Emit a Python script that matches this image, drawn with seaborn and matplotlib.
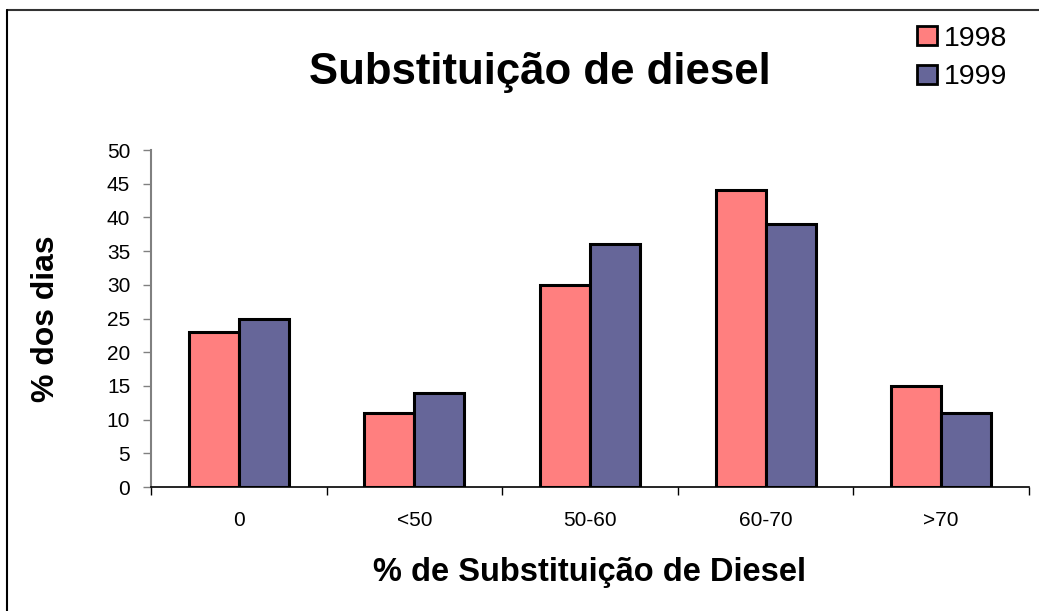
import matplotlib
matplotlib.use("Agg")
import matplotlib.pyplot as plt
import matplotlib.lines as mlines
from matplotlib.patches import Patch
from matplotlib.ticker import FixedLocator
import seaborn as sns
import pandas as pd

categorias = ["0", "<50", "50-60", "60-70", ">70"]
anos = ["1998", "1999"]
valores_1998 = [23, 11, 30, 44, 15]
valores_1999 = [25, 14, 36, 39, 11]
cores = ["#FF7F7F", "#666699"]

df = pd.DataFrame({
    "categoria": categorias * 2,
    "ano": [anos[0]] * len(categorias) + [anos[1]] * len(categorias),
    "valor": valores_1998 + valores_1999,
})

sns.set_style("white")
plt.rcParams["font.family"] = ["Liberation Sans", "DejaVu Sans"]
for chave in ["text.color", "axes.labelcolor", "xtick.color", "ytick.color"]:
    plt.rcParams[chave] = "black"

fig = plt.figure(figsize=(10.39, 6.11), dpi=100)
ax = fig.add_axes([0.1453, 0.2029, 0.8451, 0.5516])

sns.barplot(data=df, x="categoria", y="valor", hue="ano", order=categorias,
            hue_order=anos, palette=cores, width=0.57, dodge=True,
            edgecolor="black", linewidth=2.2, saturation=1, ax=ax, legend=False)

ax.set_xlim(-0.5, len(categorias) - 0.5)
ax.set_ylim(0, 50)
ax.set_yticks(range(0, 51, 5))
ax.tick_params(axis="y", labelsize=15, length=6, width=1, color="#808080",
               labelcolor="black", left=True, direction="out", pad=9)
ax.tick_params(axis="x", which="major", labelsize=15, length=0, pad=17)
ax.xaxis.set_minor_locator(FixedLocator([i - 0.5 for i in range(len(categorias) + 1)]))
ax.tick_params(axis="x", which="minor", length=6, width=1, color="black",
               bottom=True, direction="out")

for side in ["top", "right"]:
    ax.spines[side].set_visible(False)
ax.spines["left"].set_color("#808080")
ax.spines["left"].set_linewidth(1.5)
ax.spines["bottom"].set_color("black")
ax.spines["bottom"].set_linewidth(1.2)

ax.set_xlabel("% de Substituição de Diesel", fontsize=23.5, fontweight="bold",
              labelpad=20)
ax.set_ylabel("% dos dias", fontsize=23, fontweight="bold", labelpad=33)

fig.text(0.5197, 0.8625, "Substituição de diesel", fontsize=31.5, fontweight="bold",
         ha="center", va="baseline")

handles = [Patch(facecolor=c, edgecolor="black", linewidth=2.0, label=a)
           for c, a in zip(cores, anos)]
fig.legend(handles=handles, loc="upper right", bbox_to_anchor=(0.99, 0.993),
           frameon=False, fontsize=20.5, handlelength=0.68, handleheight=0.68,
           handletextpad=0.25, labelspacing=0.45, borderpad=0.25)

# moldura da figura (bordas superior e esquerda)
fig.add_artist(mlines.Line2D([0.0067, 1.0], [0.9836, 0.9836], color="#333333",
                             linewidth=1.5, transform=fig.transFigure))
fig.add_artist(mlines.Line2D([0.0067, 0.0067], [0.0, 0.9836], color="black",
                             linewidth=1.5, transform=fig.transFigure))

fig.savefig("out.png", dpi=100, facecolor="white")
